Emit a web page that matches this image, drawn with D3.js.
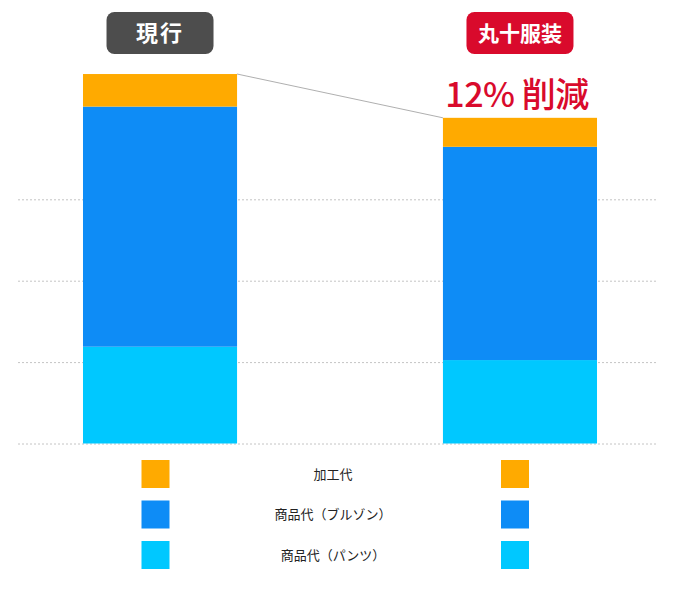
<!DOCTYPE html>
<html>
<head>
<meta charset="utf-8">
<script src="https://cdn.jsdelivr.net/npm/d3@7"></script>
<style>
  body { margin: 0; background: #fff; }
  svg { font-family: "Noto Sans CJK JP", "Noto Sans", sans-serif; }
</style>
</head>
<body>
<div id="chart"></div>
<script>
// bar categories and stacked segment values (bottom to top)
const categories = ["現行", "丸十服装"];
const pants = [1189, 1025];
const blouson = [2950, 2620];
const processing = [400, 356];

const seriesNames = ["商品代（パンツ）", "商品代（ブルゾン）", "加工代"];
const gridTicks = [0, 1000, 2000, 3000];
const reductionLabel = "12% 削減";

const colors = ["#00c8ff", "#0e8cf6", "#ffaa00"];
const headerColors = ["#4d4d4d", "#d90a2c"];

const width = 675,
  height = 595;

const svg = d3
  .select("#chart")
  .append("svg")
  .attr("width", width)
  .attr("height", height);

const x = d3
  .scaleBand()
  .domain(categories)
  .range([20, 660])
  .paddingInner(0.572)
  .paddingOuter(0.175);

const y = d3.scaleLinear().domain([0, 4000]).range([443.5, 117.9]);

// dotted gridlines
const grid = svg
  .append("g")
  .attr("transform", "translate(18,0)")
  .call(d3.axisLeft(y).tickValues(gridTicks).tickSize(-640).tickFormat(""));
grid.select(".domain").remove();
grid
  .selectAll(".tick line")
  .attr("stroke", "#c4c4c4")
  .attr("stroke-dasharray", "2,2");

// stack the series
const rows = categories.map((c, i) => ({
  cat: c,
  s0: pants[i],
  s1: blouson[i],
  s2: processing[i],
}));
const stacked = d3.stack().keys(["s0", "s1", "s2"])(rows);

svg
  .append("g")
  .selectAll("g")
  .data(stacked)
  .join("g")
  .attr("fill", (d, i) => colors[i])
  .selectAll("rect")
  .data((d) => d)
  .join("rect")
  .attr("x", (d) => x(d.data.cat))
  .attr("y", (d) => y(d[1]))
  .attr("width", x.bandwidth())
  .attr("height", (d) => y(d[0]) - y(d[1]));

// connector between the bar tops
const totals = rows.map((r) => r.s0 + r.s1 + r.s2);
svg
  .append("line")
  .attr("x1", x(categories[0]) + x.bandwidth())
  .attr("y1", y(totals[0]))
  .attr("x2", x(categories[1]))
  .attr("y2", y(totals[1]))
  .attr("stroke", "#9a9a9a")
  .attr("stroke-width", 0.8);

// header badges
const header = svg
  .append("g")
  .selectAll("g")
  .data(categories)
  .join("g")
  .attr(
    "transform",
    (d) => "translate(" + (x(d) + x.bandwidth() / 2) + ",33)"
  );

header
  .append("rect")
  .attr("x", -53.5)
  .attr("y", -21)
  .attr("width", 107)
  .attr("height", 42)
  .attr("rx", 8)
  .attr("fill", (d, i) => headerColors[i]);

header
  .append("text")
  .attr("text-anchor", "middle")
  .attr("dy", "0.36em")
  .attr("fill", "#fff")
  .attr("font-weight", "bold")
  .attr("font-size", (d, i) => (i == 0 ? 22 : 21))
  .attr("letter-spacing", (d, i) => (i == 0 ? 2 : 0))
  .text((d) => d);

// reduction label
svg
  .append("text")
  .attr("x", x(categories[1]) + x.bandwidth() / 2 - 3)
  .attr("y", 107)
  .attr("text-anchor", "middle")
  .attr("fill", "#d90a2c")
  .attr("font-size", 34)
  .attr("font-weight", 500)
  .attr("letter-spacing", -0.5)
  .text(reductionLabel);

// legend (top row = top segment)
const legendRows = [2, 1, 0];
const legend = svg
  .append("g")
  .selectAll("g")
  .data(legendRows)
  .join("g")
  .attr("transform", (d, i) => "translate(0," + (460 + i * 40.5) + ")");

legend
  .append("rect")
  .attr("x", 141.5)
  .attr("width", 28)
  .attr("height", 28)
  .attr("fill", (d) => colors[d]);

legend
  .append("rect")
  .attr("x", 501)
  .attr("width", 28)
  .attr("height", 28)
  .attr("fill", (d) => colors[d]);

legend
  .append("text")
  .attr("x", 333)
  .attr("y", 14)
  .attr("dy", "0.36em")
  .attr("text-anchor", "middle")
  .attr("font-size", 13)
  .attr("fill", "#222")
  .text((d) => seriesNames[d]);
</script>
</body>
</html>
